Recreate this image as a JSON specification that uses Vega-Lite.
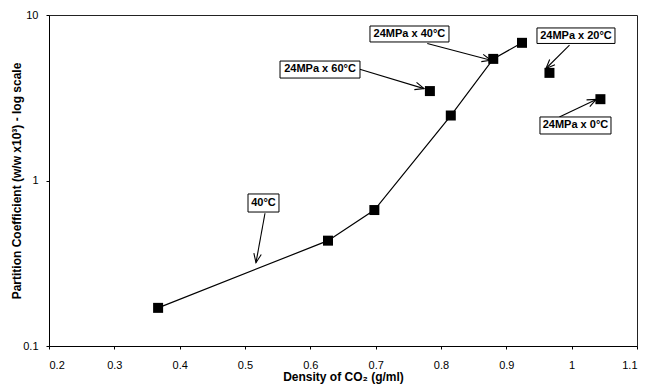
{
  "$schema": "https://vega.github.io/schema/vega-lite/v6.json",
  "width": 588,
  "height": 331,
  "autosize": {"type": "none"},
  "padding": {"left": 49, "top": 15, "right": 8, "bottom": 41},
  "background": "white",
  "config": {
    "font": "Liberation Sans",
    "view": {"stroke": "#222", "strokeWidth": 1},
    "axis": {"grid": false, "domainColor": "#000", "tickColor": "#000", "labelColor": "#000", "titleColor": "#000", "labelFont": "Liberation Sans", "titleFont": "Liberation Sans", "labelFontSize": 11, "titleFontSize": 12, "titleFontWeight": "bold", "tickSize": 4}
  },
  "datasets": {
    "pts": [
      {"density": 0.367, "pc": 0.170, "series": "40°C"},
      {"density": 0.627, "pc": 0.433, "series": "40°C"},
      {"density": 0.698, "pc": 0.663, "series": "40°C"},
      {"density": 0.815, "pc": 2.47, "series": "40°C"},
      {"density": 0.880, "pc": 5.43, "series": "40°C"},
      {"density": 0.924, "pc": 6.79, "series": "40°C"},
      {"density": 0.783, "pc": 3.47, "series": "24MPa x 60°C"},
      {"density": 0.966, "pc": 4.47, "series": "24MPa x 20°C"},
      {"density": 1.044, "pc": 3.10, "series": "24MPa x 0°C"}
    ],
    "notes": [
      {"label": "40°C", "bx1": 0.5046, "bx2": 0.5520, "by1": 0.645, "by2": 0.829, "tx": 0.5283, "ty": 0.731, "ax": 0.5306, "ay": 0.634, "hx": 0.5168, "hy": 0.3187, "ang": 10.3},
      {"label": "24MPa x 40°C", "bx1": 0.6913, "bx2": 0.8122, "by1": 6.87, "by2": 8.58, "tx": 0.7517, "ty": 7.68, "ax": 0.7790, "ay": 6.73, "hx": 0.8764, "hy": 5.33, "ang": -75.3},
      {"label": "24MPa x 60°C", "bx1": 0.5536, "bx2": 0.6760, "by1": 4.16, "by2": 5.27, "tx": 0.6148, "ty": 4.69, "ax": 0.6757, "ay": 4.70, "hx": 0.7740, "hy": 3.59, "ang": -73.2},
      {"label": "24MPa x 20°C", "bx1": 0.9469, "bx2": 1.0663, "by1": 6.73, "by2": 8.35, "tx": 1.0066, "ty": 7.49, "ax": 0.9967, "ay": 6.57, "hx": 0.9607, "hy": 4.75, "ang": 45.1},
      {"label": "24MPa x 0°C", "bx1": 0.9515, "bx2": 1.0602, "by1": 1.91, "by2": 2.42, "tx": 1.0058, "ty": 2.15, "ax": 0.9812, "ay": 2.42, "hx": 1.0376, "hy": 3.09, "ang": -115.7}
    ]
  },
  "layer": [
    {
      "data": {"name": "pts"},
      "transform": [{"filter": "datum.series === '40°C'"}],
      "mark": {"type": "line", "color": "#000", "strokeWidth": 1.2},
      "encoding": {
        "x": {"field": "density", "type": "quantitative", "scale": {"domain": [0.2, 1.1], "nice": false, "zero": false},
          "axis": {"title": "Density of CO₂ (g/ml)", "values": [0.2, 0.3, 0.4, 0.5, 0.6, 0.7, 0.8, 0.9, 1.0, 1.1], "labelExpr": "format(datum.value, '~g')", "tickSize": 3, "labelPadding": 10, "titlePadding": 1}},
        "y": {"field": "pc", "type": "quantitative", "scale": {"type": "log", "domain": [0.1, 10], "nice": false},
          "axis": {"title": "Partition Coefficient (w/w x10³) - log scale", "values": [0.1, 1, 10], "labelExpr": "format(datum.value, '~g')", "tickSize": 3, "labelPadding": 8, "titlePadding": -1}}
      }
    },
    {
      "data": {"name": "pts"},
      "mark": {"type": "point", "shape": "square", "filled": true, "color": "#000", "size": 100, "opacity": 1},
      "encoding": {
        "x": {"field": "density", "type": "quantitative"},
        "y": {"field": "pc", "type": "quantitative"}
      }
    },
    {
      "data": {"name": "notes"},
      "mark": {"type": "rule", "color": "#000", "strokeWidth": 1.1},
      "encoding": {
        "x": {"field": "ax", "type": "quantitative"},
        "y": {"field": "ay", "type": "quantitative"},
        "x2": {"field": "hx"},
        "y2": {"field": "hy"}
      }
    },
    {
      "data": {"name": "notes"},
      "mark": {"type": "point", "shape": "M-0.42,-1L0,0L0.42,-1", "filled": false, "stroke": "#000", "strokeWidth": 1.1, "size": 320, "opacity": 1},
      "encoding": {
        "x": {"field": "hx", "type": "quantitative"},
        "y": {"field": "hy", "type": "quantitative"},
        "angle": {"field": "ang", "type": "quantitative", "scale": null}
      }
    },
    {
      "data": {"name": "notes"},
      "mark": {"type": "rect", "fill": "white", "stroke": "#000", "strokeWidth": 1},
      "encoding": {
        "x": {"field": "bx1", "type": "quantitative"},
        "x2": {"field": "bx2"},
        "y": {"field": "by1", "type": "quantitative"},
        "y2": {"field": "by2"}
      }
    },
    {
      "data": {"name": "notes"},
      "mark": {"type": "text", "font": "Liberation Sans", "fontWeight": "bold", "fontSize": 11, "color": "#000", "align": "center", "baseline": "middle"},
      "encoding": {
        "x": {"field": "tx", "type": "quantitative"},
        "y": {"field": "ty", "type": "quantitative"},
        "text": {"field": "label"}
      }
    }
  ]
}
